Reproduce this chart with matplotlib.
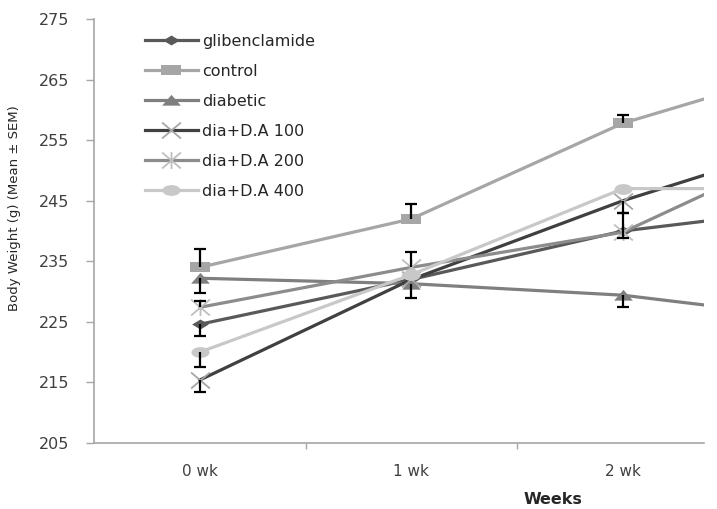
"""Body weight over weeks, line chart with one-sided SEM bars."""

import matplotlib

matplotlib.use("Agg")
import matplotlib.pyplot as plt
import numpy as np
from matplotlib.path import Path

weeks = ["0 wk", "1 wk", "2 wk", "3 wk"]

glibenclamide = [224.6, 232.0, 240.0, 244.2]
control = [234.0, 242.0, 257.8, 268.2]
diabetic = [232.2, 231.3, 229.4, 225.2]
da100 = [215.4, 232.0, 245.0, 256.0]
da200 = [227.4, 234.0, 239.8, 256.0]
da400 = [220.0, 232.8, 247.0, 247.0]

# one-sided SEM bars as drawn in the source (lower, upper)
glib_err = ([2.0, 0, 1.1, 0], [0, 0, 0, 0])
control_err = ([0, 0, 0, 0], [3.0, 2.4, 1.4, 0])
diabetic_err = ([2.4, 2.3, 1.9, 0], [0, 0, 0, 0])
da100_err = ([2.0, 0, 2.1, 0], [0, 0, 0, 0])
da200_err = ([0, 0, 0, 0], [1.0, 2.5, 3.1, 0])
da400_err = ([2.5, 0, 0, 0], [0, 0, 0, 0])


def poly(pts):
    return Path(pts + [pts[0]], closed=True)


square = poly([(-1, -0.55), (1, -0.55), (1, 0.55), (-1, 0.55)])
diamond = poly([(0, 0.6), (1, 0), (0, -0.6), (-1, 0)])
triangle = poly([(-1, -0.55), (1, -0.55), (0, 0.6)])
circ = Path.unit_circle()
ellipse = Path(circ.vertices * [1, 0.6], circ.codes)
cross = Path([(-1, -0.85), (1, 0.85), (-1, 0.85), (1, -0.85)],
             [Path.MOVETO, Path.LINETO, Path.MOVETO, Path.LINETO])
aster = Path([(-1, -0.85), (1, 0.85), (-1, 0.85), (1, -0.85), (0, -0.9), (0, 0.9)],
             [Path.MOVETO, Path.LINETO, Path.MOVETO, Path.LINETO, Path.MOVETO, Path.LINETO])

series = [
    ("glibenclamide", glibenclamide, glib_err, "#595959", diamond, 12, "#595959"),
    ("control", control, control_err, "#a6a6a6", square, 14, "#a6a6a6"),
    ("diabetic", diabetic, diabetic_err, "#7f7f7f", triangle, 13.5, "#7f7f7f"),
    ("dia+D.A 100", da100, da100_err, "#404040", cross, 13.5, "#a6a6a6"),
    ("dia+D.A 200", da200, da200_err, "#8c8c8c", aster, 13.5, "#bfbfbf"),
    ("dia+D.A 400", da400, da400_err, "#c8c8c8", ellipse, 13, "#c8c8c8"),
]

fig = plt.figure(figsize=(7.17, 5.09), dpi=100)
ax = fig.add_axes([94 / 717, 1 - 443 / 509, (704 - 94) / 717, (443 - 19) / 509])
x = np.arange(len(weeks))

for label, vals, err, color, marker, ms, mcol in series:
    filled = marker not in (cross, aster)
    ax.plot(x, vals, color=color, lw=2.3, marker=marker, ms=ms,
            mfc=mcol if filled else "none", mec=mcol, mew=1.3 if not filled else 0,
            label=label, zorder=3)

# error bars, black, only the drawn side
for label, vals, err, *_ in series:
    lo, hi = err
    for i, v in enumerate(vals):
        for d in (-lo[i], hi[i]):
            if d:
                ax.vlines(x[i], v, v + d, color="black", lw=1.6, zorder=4)
                ax.plot([x[i]], [v + d], marker="_", ms=9, mew=1.6,
                        color="black", zorder=4)

ax.set_yticks(range(205, 276, 10))
ax.set_xticks(x, weeks)
ax.set_xticks(x + 0.5, minor=True)
ax.set_xlim(-0.5, 2.383)
ax.set_ylim(205, 275)

gray = "#a6a6a6"
for side in ("top", "right"):
    ax.spines[side].set_visible(False)
for side in ("left", "bottom"):
    ax.spines[side].set_color(gray)
    ax.spines[side].set_linewidth(1.2)

ax.tick_params(axis="y", length=6, width=1, color=gray, pad=12,
               labelsize=11.5, labelcolor="#404040")
ax.tick_params(axis="x", which="major", length=0, pad=15,
               labelsize=11, labelcolor="#404040")
ax.tick_params(axis="x", which="minor", length=4, width=1, color=gray)

ax.set_xlabel("Weeks", fontsize=11.5, fontweight="bold", color="#262626")
ax.xaxis.set_label_coords((553 - 94) / (704 - 94), -(492 - 443) / (443 - 19))

fig.text(15 / 717, 1 - 208 / 509, "Body Weight (g) (Mean \u00b1 SEM)",
         rotation=90, ha="center", va="center", fontsize=9.5,
         family=["Liberation Sans Narrow", "DejaVu Sans"], color="#262626")

ax.legend(loc="upper left", bbox_to_anchor=(145 / 717, 1 - 34 / 509),
          bbox_transform=fig.transFigure, frameon=False, fontsize=11.5,
          borderpad=0, borderaxespad=0, labelspacing=0.94,
          handlelength=3.3, handletextpad=0.25, labelcolor="#262626")

fig.savefig("out.png", dpi=100)
plt.close(fig)
